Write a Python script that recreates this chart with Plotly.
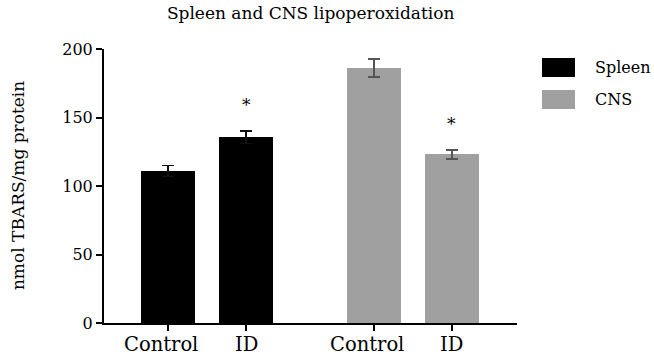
import plotly.graph_objects as go

# ---- data ----
groups = ["Spleen", "CNS"]
categories = ["Control", "ID"]
spleen_values = [111, 135.5]
spleen_errors = [4, 4.5]
cns_values = [186, 123]
cns_errors = [6.5, 3.5]
significant = [False, True]  # asterisk marks per category
title_text = "Spleen and CNS lipoperoxidation"
y_title = "nmol TBARS/mg protein"
y_ticks = [0, 50, 100, 150, 200]

FONT = "'DejaVu Serif', 'Liberation Serif', serif"
colors = {"Spleen": "#000000", "CNS": "#a0a0a0"}
err_colors = {"Spleen": "#111111", "CNS": "#555555"}
label_shift = {"Control": -7, "ID": 0}

# positions (layout only)
group_offset = [0.0, 2.64]
pos = {g: [i + 1 + group_offset[k] for i in range(len(categories))] for k, g in enumerate(groups)}
vals = {"Spleen": spleen_values, "CNS": cns_values}
errs = {"Spleen": spleen_errors, "CNS": cns_errors}

fig = go.Figure()
for g in groups:
    fig.add_trace(go.Bar(
        x=pos[g], y=vals[g], width=0.69, name=g,
        marker=dict(color=colors[g], line=dict(width=0)),
        error_y=dict(type="data", array=errs[g], color=err_colors[g], thickness=1.6, width=6),
        showlegend=False, hoverinfo="skip",
    ))

annotations = []
for g in groups:
    for i, s in enumerate(significant):
        if s:
            annotations.append(dict(
                x=pos[g][i], y=vals[g][i] + errs[g][i], xref="x", yref="y",
                text="*", showarrow=False, yshift=26,
                font=dict(family=FONT, size=17, color="black"),
            ))
    # category labels under the axis
    for i, c in enumerate(categories):
        annotations.append(dict(
            x=pos[g][i], y=0, xref="x", yref="paper", text=c, showarrow=False,
            xanchor="center", yanchor="top", yshift=-8, xshift=label_shift[c],
            font=dict(family=FONT, size=19.5, color="black"),
        ))

# y-axis title
annotations.append(dict(
    x=-0.208, y=0.5, xref="paper", yref="paper", text=y_title, textangle=-90,
    showarrow=False, xanchor="center", yanchor="middle",
    font=dict(family=FONT, size=17, color="black"),
))

# legend (manual swatches)
shapes = []
for k, g in enumerate(groups):
    y0 = 58 + k * 32
    shapes.append(dict(type="rect", xref="paper", yref="paper",
                       x0=(542 - 104) / 413, x1=(575 - 104) / 413,
                       y0=(323 - (y0 + 19)) / 274, y1=(323 - y0) / 274,
                       fillcolor=colors[g], line=dict(width=0)))
    annotations.append(dict(
        x=(593 - 104) / 413, y=(323 - (y0 + 9.5)) / 274, xref="paper", yref="paper",
        text=g, showarrow=False, xanchor="left", yanchor="middle",
        font=dict(family=FONT, size=16, color="black"),
    ))

tickvals = pos["Spleen"] + pos["CNS"]

fig.update_layout(
    width=654, height=360,
    margin=dict(l=104, r=137, t=49, b=37, autoexpand=False),
    font=dict(family=FONT, color="black"),
    plot_bgcolor="white", paper_bgcolor="white",
    title=dict(text=title_text, x=0.475, xanchor="center", y=0.965, yanchor="middle",
               font=dict(family=FONT, size=17, color="black")),
    bargap=0,
    hovermode=False,
    xaxis=dict(range=[0.179, 5.474], tickvals=tickvals, showticklabels=False,
               showline=True, linecolor="black", linewidth=2, ticks="outside",
               ticklen=6, tickwidth=2, tickcolor="black", showgrid=False, zeroline=False),
    yaxis=dict(range=[0, 200], tickvals=y_ticks, showline=True, linecolor="black",
               linewidth=2, ticks="outside", ticklen=6, tickwidth=2, tickcolor="black",
               showgrid=False, zeroline=False,
               tickfont=dict(family=FONT, size=16, color="black")),
    annotations=annotations, shapes=shapes,
)

fig.write_html("out.html", config={"displayModeBar": False},
               post_script="document.body.style.margin='0';")
